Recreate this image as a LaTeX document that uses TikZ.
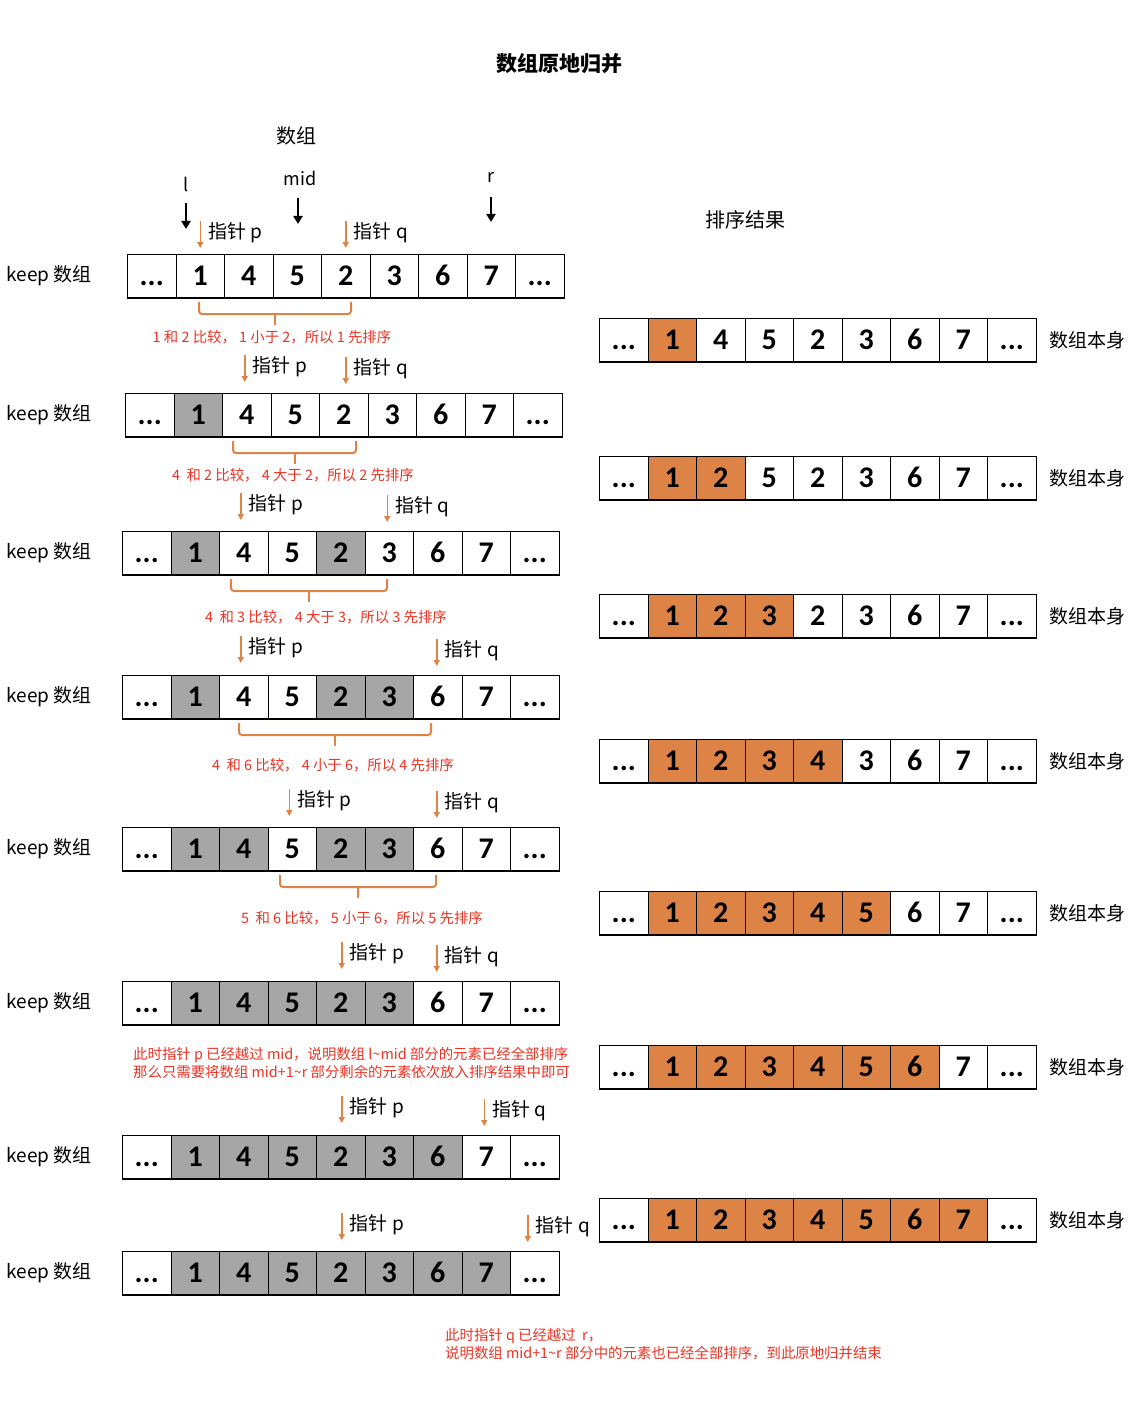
\documentclass[tikz,border=0pt]{standalone}
\usepackage{fontspec}
\setmainfont{Noto Sans CJK SC}
\newfontfamily\numfont{Carlito}[BoldFont={Carlito Bold}]
\usetikzlibrary{arrows.meta,positioning}

\definecolor{mergeorange}{RGB}{222,131,70}
\definecolor{mergegray}{RGB}{166,166,166}
\definecolor{notered}{RGB}{234,51,35}
\colorlet{wt}{white}
\colorlet{gy}{mergegray}
\colorlet{og}{mergeorange}

\newcommand{\celldots}{...}

\tikzset{
  cell/.style={draw=black, line width=1pt, minimum width=48.5pt, minimum height=43pt,
    inner sep=0pt, anchor=north west, text height=19pt, text depth=0pt,
    font=\numfont\bfseries\fontsize{30}{30}\selectfont},
  rowbase/.style={line width=2.5pt},
  rowlabel/.style={font=\fontsize{19}{19}\selectfont, inner sep=0pt},
  ptrlabel/.style={font=\fontsize{19}{19}\selectfont, anchor=west, inner sep=0pt},
  ptr/.style={draw=mergeorange, line width=1.5pt, -{Triangle[width=6pt,length=6pt]}},
  bound/.style={line width=2.5pt, -{Triangle[width=9pt,length=8pt]}},
  brace/.style={draw=mergeorange, line width=2pt, rounded corners=3pt},
  note/.style={text=notered, font=\fontsize{14.4}{18}\selectfont, inner sep=0pt},
}

% one array of 9 cells: name, left x, top y, value/colour list
\newcommand{\cellrow}[4]{%
  \foreach \v/\f [count=\i from 0] in {#4}
    \node[cell, fill=\f] (#1-\i) at ({#2+\i*48.5}, #3) {\v};
  \draw[rowbase] (#1-0.south west) -- (#1-8.south east);
}

% pointer above a cell: name, cell, xshift, gap, text
\newcommand{\pointer}[5]{%
  \coordinate (#1-top) at ([xshift=#3pt, yshift={#4pt+27pt}]#2.north);
  \coordinate (#1-tip) at ([xshift=#3pt, yshift=#4pt]#2.north);
  \draw[ptr] (#1-top) -- (#1-tip);
  \node[ptrlabel] (#1) at ([xshift={#3pt+8pt}, yshift={#4pt+15pt}]#2.north) {#5};
}

% bracket under two compared cells: x1, x2, bottom y of row
\newcommand{\pairbrace}[3]{%
  \draw[brace] (#1, {#3+5}) |- (#2, {#3+17}) -- (#2, {#3+5});
  \draw[brace] ({(#1+#2)/2}, {#3+17}) -- ({(#1+#2)/2}, {#3+28});
}

\begin{document}
\begin{tikzpicture}[x=1pt, y=-1pt]
  \useasboundingbox (0,0) rectangle (1136,1412);

  \node[font=\bfseries\fontsize{21}{21}\selectfont] (title) at (559,64) {数组原地归并};
  \node[font=\fontsize{20}{20}\selectfont] (arrtitle) at (296,136) {数组};
  \node[font=\fontsize{20}{20}\selectfont] (restitle) at (745,220) {排序结果};

  % keep arrays
  \cellrow{k1}{127}{254}{\celldots/wt,1/wt,4/wt,5/wt,2/wt,3/wt,6/wt,7/wt,\celldots/wt}
  \cellrow{k2}{125}{393}{\celldots/wt,1/gy,4/wt,5/wt,2/wt,3/wt,6/wt,7/wt,\celldots/wt}
  \cellrow{k3}{122}{531}{\celldots/wt,1/gy,4/wt,5/wt,2/gy,3/wt,6/wt,7/wt,\celldots/wt}
  \cellrow{k4}{122}{675}{\celldots/wt,1/gy,4/wt,5/wt,2/gy,3/gy,6/wt,7/wt,\celldots/wt}
  \cellrow{k5}{122}{827}{\celldots/wt,1/gy,4/gy,5/wt,2/gy,3/gy,6/wt,7/wt,\celldots/wt}
  \cellrow{k6}{122}{981}{\celldots/wt,1/gy,4/gy,5/gy,2/gy,3/gy,6/wt,7/wt,\celldots/wt}
  \cellrow{k7}{122}{1135}{\celldots/wt,1/gy,4/gy,5/gy,2/gy,3/gy,6/gy,7/wt,\celldots/wt}
  \cellrow{k8}{122}{1251}{\celldots/wt,1/gy,4/gy,5/gy,2/gy,3/gy,6/gy,7/gy,\celldots/wt}

  \node[rowlabel, left=35pt of k1-0] (k1-lab) {keep 数组};
  \node[rowlabel, left=33pt of k2-0] (k2-lab) {keep 数组};
  \foreach \r in {k3,k4,k5,k6,k7,k8}
    \node[rowlabel, left=30pt of \r-0] (\r-lab) {keep 数组};

  % result arrays
  \cellrow{s1}{599}{318}{\celldots/wt,1/og,4/wt,5/wt,2/wt,3/wt,6/wt,7/wt,\celldots/wt}
  \cellrow{s2}{599}{456}{\celldots/wt,1/og,2/og,5/wt,2/wt,3/wt,6/wt,7/wt,\celldots/wt}
  \cellrow{s3}{599}{594}{\celldots/wt,1/og,2/og,3/og,2/wt,3/wt,6/wt,7/wt,\celldots/wt}
  \cellrow{s4}{599}{739}{\celldots/wt,1/og,2/og,3/og,4/og,3/wt,6/wt,7/wt,\celldots/wt}
  \cellrow{s5}{599}{891}{\celldots/wt,1/og,2/og,3/og,4/og,5/og,6/wt,7/wt,\celldots/wt}
  \cellrow{s6}{599}{1045}{\celldots/wt,1/og,2/og,3/og,4/og,5/og,6/og,7/wt,\celldots/wt}
  \cellrow{s7}{599}{1198}{\celldots/wt,1/og,2/og,3/og,4/og,5/og,6/og,7/og,\celldots/wt}

  \foreach \r in {s1,s2,s3,s4,s5,s6,s7}
    \node[rowlabel, right=13pt of \r-8] (\r-lab) {数组本身};

  % l, mid, r
  \node[font=\fontsize{18}{18}\selectfont] (lname) at (186,184) {l};
  \node[font=\fontsize{18}{18}\selectfont] (midname) at (300,178) {mid};
  \node[font=\fontsize{18}{18}\selectfont] (rname) at (491,177) {r};
  \coordinate (l-top) at (186,203);   \coordinate (l-tip) at (186,229);
  \coordinate (mid-top) at (298,198); \coordinate (mid-tip) at (298,224);
  \coordinate (r-top) at (491,197);   \coordinate (r-tip) at (491,222);
  \draw[bound] (l-top) -- (l-tip);
  \draw[bound] (mid-top) -- (mid-tip);
  \draw[bound] (r-top) -- (r-tip);

  % pointers p and q
  \pointer{p1}{k1-1}{0}{6}{指针 p}   \pointer{q1}{k1-4}{0}{6}{指针 q}
  \pointer{p2}{k2-2}{-2}{11}{指针 p} \pointer{q2}{k2-4}{2}{9}{指针 q}
  \pointer{p3}{k3-2}{-3}{11}{指针 p} \pointer{q3}{k3-5}{-2}{9}{指针 q}
  \pointer{p4}{k4-2}{-3}{12}{指针 p} \pointer{q4}{k4-6}{-1}{9}{指针 q}
  \pointer{p5}{k5-3}{-3}{11}{指针 p} \pointer{q5}{k5-6}{-1}{9}{指针 q}
  \pointer{p6}{k6-4}{1}{12}{指针 p}  \pointer{q6}{k6-6}{-1}{9}{指针 q}
  \pointer{p7}{k7-4}{1}{12}{指针 p}  \pointer{q7}{k7-7}{-2}{9}{指针 q}
  \pointer{p8}{k8-4}{1}{11}{指针 p}  \pointer{q8}{k8-8}{-7}{9}{指针 q}

  % comparisons
  \pairbrace{199}{351}{297}
  \pairbrace{233}{356}{436}
  \pairbrace{231}{387}{574}
  \pairbrace{239}{431}{718}
  \pairbrace{280}{436}{870}

  \node[note] (cmp1) at (272,337) {1 和 2 比较， 1 小于 2，所以 1 先排序};
  \node[note] (cmp2) at (293,475) {4\ \ 和 2 比较， 4 大于 2，所以 2 先排序};
  \node[note] (cmp3) at (326,617) {4\ \ 和 3 比较， 4 大于 3，所以 3 先排序};
  \node[note] (cmp4) at (333,765) {4\ \ 和 6 比较， 4 小于 6，所以 4 先排序};
  \node[note] (cmp5) at (362,918) {5\ \ 和 6 比较， 5 小于 6，所以 5 先排序};

  \node[note, align=left, anchor=west] (pdone) at (133,1063)
    {此时指针 p 已经越过 mid，说明数组 l{\textasciitilde}mid 部分的元素已经全部排序\\
     那么只需要将数组 mid+1{\textasciitilde}r 部分剩余的元素依次放入排序结果中即可};
  \node[note, align=left, anchor=west] (qdone) at (445,1344)
    {此时指针 q 已经越过\ \ r，\\
     说明数组 mid+1{\textasciitilde}r 部分中的元素也已经全部排序，到此原地归并结束};
\end{tikzpicture}
\end{document}
